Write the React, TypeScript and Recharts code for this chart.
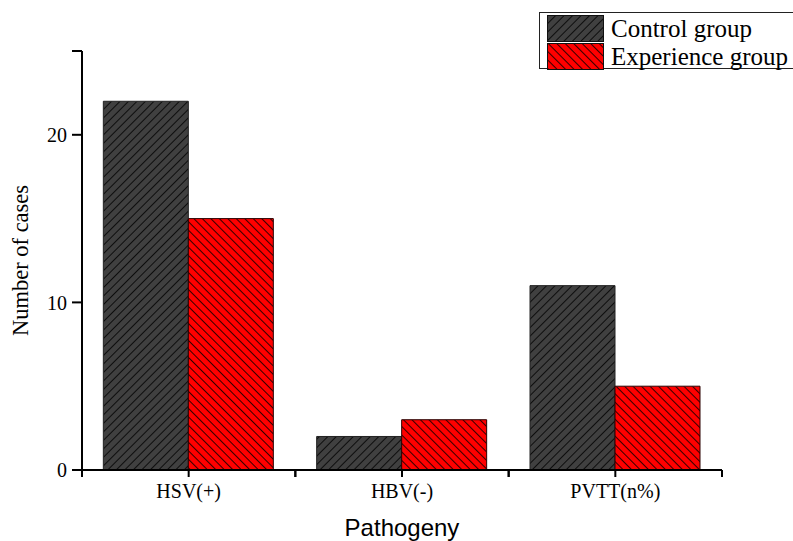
import { Bar, BarChart, Label, Legend, XAxis, YAxis } from "recharts";

const categories = ["HSV(+)", "HBV(-)", "PVTT(n%)"];
const controlGroup = [22, 2, 11];
const experienceGroup = [15, 3, 5];
const yTicks = [0, 10, 20, 25];

const data = categories.map((name, i) => ({
  name,
  control: controlGroup[i],
  experience: experienceGroup[i]
}));

const serif = '"Liberation Serif", "Times New Roman", serif';
const sans = '"Liberation Sans", Arial, sans-serif';
const X_TICK = 7;
const X_MARGIN = 7;

function Hatch({ id, color, angle }: { id: string; color: string; angle: number }) {
  return (
    <pattern id={id} patternUnits="userSpaceOnUse" width={6} height={6} patternTransform={`rotate(${angle})`}>
      <rect width={6} height={6} fill={color} />
      <line x1={0} y1={0} x2={0} y2={6} stroke="#000" strokeWidth={1.6} />
    </pattern>
  );
}

function Patch({ id, color, angle }: { id: string; color: string; angle: number }) {
  return (
    <svg width={57} height={27} style={{ display: "block" }}>
      <defs>
        <Hatch id={id} color={color} angle={angle} />
      </defs>
      <rect x={0.5} y={0.5} width={56} height={26} fill={`url(#${id})`} stroke="#111" strokeWidth={1} />
    </svg>
  );
}

function LegendBox() {
  const rows = [
    { label: "Control group", id: "legDark", color: "#404040", angle: 45 },
    { label: "Experience group", id: "legRed", color: "#ff0000", angle: -45 }
  ];
  return (
    <div style={{ border: "1px solid #222", background: "#fff", width: 262, height: 57, padding: "2px 0 0 7px", boxSizing: "border-box" }}>
      {rows.map((r) => (
        <div key={r.id} style={{ display: "flex", alignItems: "center", height: 27, marginBottom: 1 }}>
          <Patch id={r.id} color={r.color} angle={r.angle} />
          <span style={{ fontFamily: serif, fontSize: 25, marginLeft: 7, lineHeight: "27px", color: "#000" }}>{r.label}</span>
        </div>
      ))}
    </div>
  );
}

// category label plus the little ticks at the band edges
function CategoryTick(props: any) {
  const { x, y, payload } = props;
  const half = payload?.offset ?? 0;
  const top = y - X_TICK - X_MARGIN;
  return (
    <g>
      <line x1={x - half} y1={top} x2={x - half} y2={top + X_TICK} stroke="#000" strokeWidth={2} />
      <line x1={x + half} y1={top} x2={x + half} y2={top + X_TICK} stroke="#000" strokeWidth={2} />
      <text x={x} y={y} dy="0.71em" textAnchor="middle" fontFamily={serif} fontSize={20} fill="#000">
        {payload.value}
      </text>
    </g>
  );
}

export default function App() {
  return (
    <div style={{ position: "absolute", left: 0, top: 0, width: 793, height: 541, background: "#fff" }}>
      <svg width={0} height={0} style={{ position: "absolute" }}>
        <defs>
          <Hatch id="hatchDark" color="#404040" angle={45} />
          <Hatch id="hatchRed" color="#ff0000" angle={-45} />
        </defs>
      </svg>
      <BarChart
        width={793}
        height={541}
        data={data}
        margin={{ top: 51, right: 71, bottom: 0, left: 0 }}
        barCategoryGap="10%"
        barGap={0}
      >
        <XAxis
          dataKey="name"
          height={71}
          axisLine={{ stroke: "#000", strokeWidth: 2 }}
          tickLine={{ stroke: "#000", strokeWidth: 2 }}
          tickSize={X_TICK}
          tickMargin={X_MARGIN}
          tick={<CategoryTick />}
        >
          <Label value="Pathogeny" position="center" dy={22} style={{ fontFamily: sans, fontSize: 24, fill: "#000" }} />
        </XAxis>
        <YAxis
          width={82}
          domain={[0, 25]}
          ticks={yTicks}
          interval={0}
          tickFormatter={(v) => (v === 25 ? "" : String(v))}
          axisLine={{ stroke: "#000", strokeWidth: 2 }}
          tickLine={{ stroke: "#000", strokeWidth: 2 }}
          tickSize={10}
          tickMargin={5}
          tick={{ fontFamily: serif, fontSize: 20, fill: "#000" }}
        >
          <Label value="Number of cases" angle={-90} position="center" dx={-21} style={{ fontFamily: serif, fontSize: 22.5, fill: "#000", textAnchor: "middle" }} />
        </YAxis>
        <Legend layout="vertical" align="center" verticalAlign="middle" content={() => <LegendBox />} wrapperStyle={{ left: 539, top: 12, width: 262 }} />
        <Bar dataKey="control" name="Control group" fill="url(#hatchDark)" stroke="#222" strokeWidth={1} isAnimationActive={false} />
        <Bar dataKey="experience" name="Experience group" fill="url(#hatchRed)" stroke="#2a0000" strokeWidth={1} isAnimationActive={false} />
      </BarChart>
    </div>
  );
}
